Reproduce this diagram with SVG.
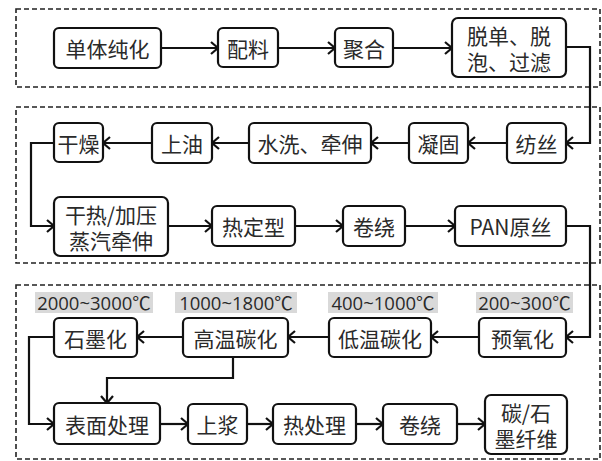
<svg xmlns="http://www.w3.org/2000/svg" width="602" height="461" viewBox="0 0 602 461">
<style>
.sec{fill:none;stroke:#222;stroke-width:1.6;stroke-dasharray:5,3}
.n rect{fill:#fff;stroke:#111;stroke-width:2.2}
.n text,.lb text{font-family:"Noto Sans CJK SC","Noto Sans",sans-serif;font-size:21px;fill:#2a2a2a;text-anchor:middle;dominant-baseline:central}
.lb rect{fill:#d9d9d9}
.lb text{font-family:"Open Sans","Noto Sans CJK SC",sans-serif;font-size:18.5px}
.c path{fill:none;stroke:#111;stroke-width:2.2;marker-end:url(#ah)}
</style>
<defs>
<marker id="ah" markerUnits="userSpaceOnUse" markerWidth="12" markerHeight="14" refX="9" refY="7" orient="auto">
<path d="M2,1 L9,7 L2,13" fill="none" stroke="#111" stroke-width="2.2"/>
</marker>
</defs>
<rect fill="#fff" width="602" height="461"/>
<g id="sections">
<rect class="sec" x="16" y="9" width="584" height="78"/>
<rect class="sec" x="16" y="107" width="584" height="156"/>
<rect class="sec" x="16" y="285" width="584" height="174"/>
</g>
<g id="labels">
<g class="lb" id="t1"><rect x="35" y="292" width="118" height="21"/><text x="94" y="302">2000~3000℃</text></g>
<g class="lb" id="t2"><rect x="175" y="292" width="122" height="21"/><text x="236" y="302">1000~1800℃</text></g>
<g class="lb" id="t3"><rect x="328" y="292" width="110" height="21"/><text x="383" y="302">400~1000℃</text></g>
<g class="lb" id="t4"><rect x="476" y="292" width="97" height="21"/><text x="524.5" y="302">200~300℃</text></g>
</g>
<g id="connectors" class="c">
<path d="M161,48 H218"/>
<path d="M278,48 H335"/>
<path d="M393,48 H452"/>
<path d="M566,47 H590 V143 H566"/>
<path d="M507,143 H468"/>
<path d="M409,143 H371"/>
<path d="M249,143 H212"/>
<path d="M152,143 H103"/>
<path d="M54,143 H31 V226 H54"/>
<path d="M168,226 H212"/>
<path d="M295,226 H343"/>
<path d="M405,226 H455"/>
<path d="M566,226 H590 V337 H566"/>
<path d="M479,337 H431"/>
<path d="M329,337 H288"/>
<path d="M183,337 H137"/>
<path d="M54,337 H29 V424 H54"/>
<path d="M233,357 V378 H107 V403"/>
<path d="M160,424 H188"/>
<path d="M247,424 H273"/>
<path d="M356,424 H383"/>
<path d="M457,424 H485"/>
</g>
<g id="n1" class="n"><rect x="54" y="28" width="107" height="40" rx="5"/><text x="107.5" y="48">单体纯化</text></g>
<g id="n2" class="n"><rect x="218" y="28" width="60" height="39" rx="5"/><text x="248" y="47.5">配料</text></g>
<g id="n3" class="n"><rect x="335" y="28" width="58" height="39" rx="5"/><text x="364" y="47.5">聚合</text></g>
<g id="n4" class="n"><rect x="452" y="18" width="114" height="59" rx="6"/><text x="509" y="34.5">脱单、脱</text><text x="509" y="60.5">泡、过滤</text></g>
<g id="n5" class="n"><rect x="507" y="123" width="59" height="40" rx="5"/><text x="536.5" y="143">纺丝</text></g>
<g id="n6" class="n"><rect x="409" y="123" width="59" height="40" rx="5"/><text x="438.5" y="143">凝固</text></g>
<g id="n7" class="n"><rect x="249" y="123" width="122" height="40" rx="5"/><text x="310" y="143">水洗、牵伸</text></g>
<g id="n8" class="n"><rect x="152" y="123" width="60" height="40" rx="5"/><text x="182" y="143">上油</text></g>
<g id="n9" class="n"><rect x="54" y="123" width="49" height="39" rx="5"/><text x="78.5" y="142.5">干燥</text></g>
<g id="n10" class="n"><rect x="54" y="197" width="114" height="59" rx="6"/><text x="111" y="213.5">干热/加压</text><text x="111" y="239.5">蒸汽牵伸</text></g>
<g id="n11" class="n"><rect x="212" y="206" width="83" height="40" rx="5"/><text x="253.5" y="226">热定型</text></g>
<g id="n12" class="n"><rect x="343" y="206" width="62" height="40" rx="5"/><text x="374" y="226">卷绕</text></g>
<g id="n13" class="n"><rect x="455" y="206" width="111" height="40" rx="5"/><text x="510.5" y="226">PAN原丝</text></g>
<g id="n14" class="n"><rect x="479" y="318" width="87" height="39" rx="5"/><text x="522.5" y="337.5">预氧化</text></g>
<g id="n15" class="n"><rect x="329" y="318" width="102" height="39" rx="5"/><text x="380" y="337.5">低温碳化</text></g>
<g id="n16" class="n"><rect x="183" y="318" width="105" height="39" rx="5"/><text x="235.5" y="337.5">高温碳化</text></g>
<g id="n17" class="n"><rect x="54" y="318" width="83" height="39" rx="5"/><text x="95.5" y="337.5">石墨化</text></g>
<g id="n18" class="n"><rect x="54" y="403" width="106" height="41" rx="5"/><text x="107" y="423.5">表面处理</text></g>
<g id="n19" class="n"><rect x="188" y="404" width="59" height="40" rx="5"/><text x="217.5" y="424">上浆</text></g>
<g id="n20" class="n"><rect x="273" y="404" width="83" height="40" rx="5"/><text x="314.5" y="424">热处理</text></g>
<g id="n21" class="n"><rect x="383" y="404" width="74" height="40" rx="5"/><text x="420" y="424">卷绕</text></g>
<g id="n22" class="n"><rect x="485" y="395" width="82" height="59" rx="6"/><text x="526" y="411.5">碳/石</text><text x="526" y="437.5">墨纤维</text></g>
</svg>
